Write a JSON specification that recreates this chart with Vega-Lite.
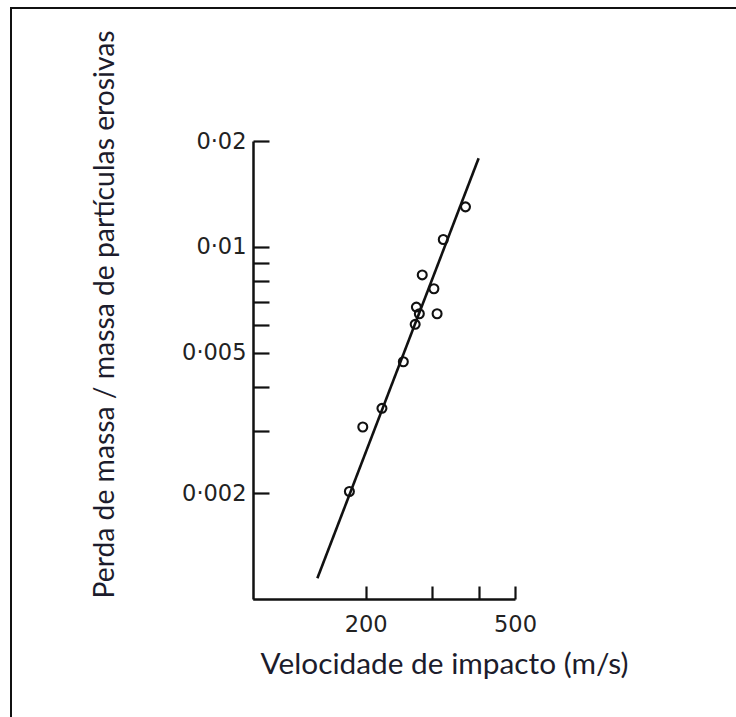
{
  "$schema": "https://vega.github.io/schema/vega-lite/v6.json",
  "autosize": {"type": "none"},
  "padding": {"left": 11, "top": 8, "right": -35, "bottom": -31},
  "width": 760,
  "height": 740,
  "background": "white",
  "config": {
    "view": {"stroke": "#111111", "strokeWidth": 2},
    "axis": {"grid": false}
  },
  "layer": [
    {
      "data": {"values": [
        {"velocidade": 148.7, "perda": 0.001145},
        {"velocidade": 400, "perda": 0.01786}
      ]},
      "mark": {"type": "line", "color": "#111111", "strokeWidth": 2.6},
      "encoding": {
        "x": {
          "field": "velocidade", "type": "quantitative",
          "scale": {"type": "log", "domain": [100, 500], "range": [241.7, 504], "nice": false, "zero": false},
          "axis": {
            "orient": "bottom", "offset": -149,
            "values": [200, 300, 400, 500],
            "labelExpr": "datum.value == 200 || datum.value == 500 ? datum.value + '' : ''",
            "labelFont": "DejaVu Sans", "labelFontSize": 22.5, "labelColor": "#222222",
            "labelPadding": 27, "labelBaseline": "top", "labelFlush": false, "labelOverlap": false,
            "domainColor": "#111111", "domainWidth": 2.5,
            "tickColor": "#111111", "tickWidth": 2.2, "tickSize": -13,
            "title": "Velocidade de impacto (m/s)",
            "titleFont": "Lato", "titleFontSize": 29.8, "titleFontWeight": "normal", "titleColor": "#1c1c2c",
            "titleX": 433, "titleY": 74, "titleAlign": "center", "titleBaseline": "alphabetic"
          }
        },
        "y": {
          "field": "perda", "type": "quantitative",
          "scale": {"type": "log", "domain": [0.001, 0.02], "range": [591, 133], "nice": false, "zero": false},
          "axis": {
            "orient": "left", "offset": -242,
            "values": [0.002, 0.003, 0.004, 0.005, 0.006, 0.007, 0.008, 0.009, 0.01, 0.02],
            "labelExpr": "datum.value == 0.002 ? '0·002' : datum.value == 0.005 ? '0·005' : datum.value == 0.01 ? '0·01' : datum.value == 0.02 ? '0·02' : ''",
            "labelFont": "DejaVu Sans", "labelFontSize": 22.5, "labelColor": "#222222",
            "labelPadding": 23, "labelBaseline": "middle", "labelAlign": "right", "labelFlush": false, "labelOverlap": false,
            "domainColor": "#111111", "domainWidth": 2.5,
            "tickColor": "#111111", "tickWidth": 2.2, "tickSize": -16,
            "title": "Perda de massa / massa de partículas erosivas",
            "titleFont": "Lato", "titleFontSize": 28.3, "titleFontWeight": "normal", "titleColor": "#1c1c2c",
            "titleX": -140, "titleY": 306, "titleAngle": -90, "titleAlign": "center", "titleBaseline": "alphabetic"
          }
        }
      }
    },
    {
      "data": {"values": [
        {"velocidade": 181, "perda": 0.00202},
        {"velocidade": 196.5, "perda": 0.00308},
        {"velocidade": 221, "perda": 0.00348},
        {"velocidade": 252, "perda": 0.00472},
        {"velocidade": 271, "perda": 0.00603},
        {"velocidade": 273, "perda": 0.00675},
        {"velocidade": 278, "perda": 0.00646},
        {"velocidade": 283, "perda": 0.00833},
        {"velocidade": 304, "perda": 0.00761},
        {"velocidade": 310, "perda": 0.00646},
        {"velocidade": 322, "perda": 0.0105},
        {"velocidade": 369, "perda": 0.0130}
      ]},
      "mark": {"type": "point", "shape": "circle", "filled": false, "color": "#111111", "strokeWidth": 2.1, "size": 80, "opacity": 1},
      "encoding": {
        "x": {"field": "velocidade", "type": "quantitative"},
        "y": {"field": "perda", "type": "quantitative"}
      }
    }
  ]
}
